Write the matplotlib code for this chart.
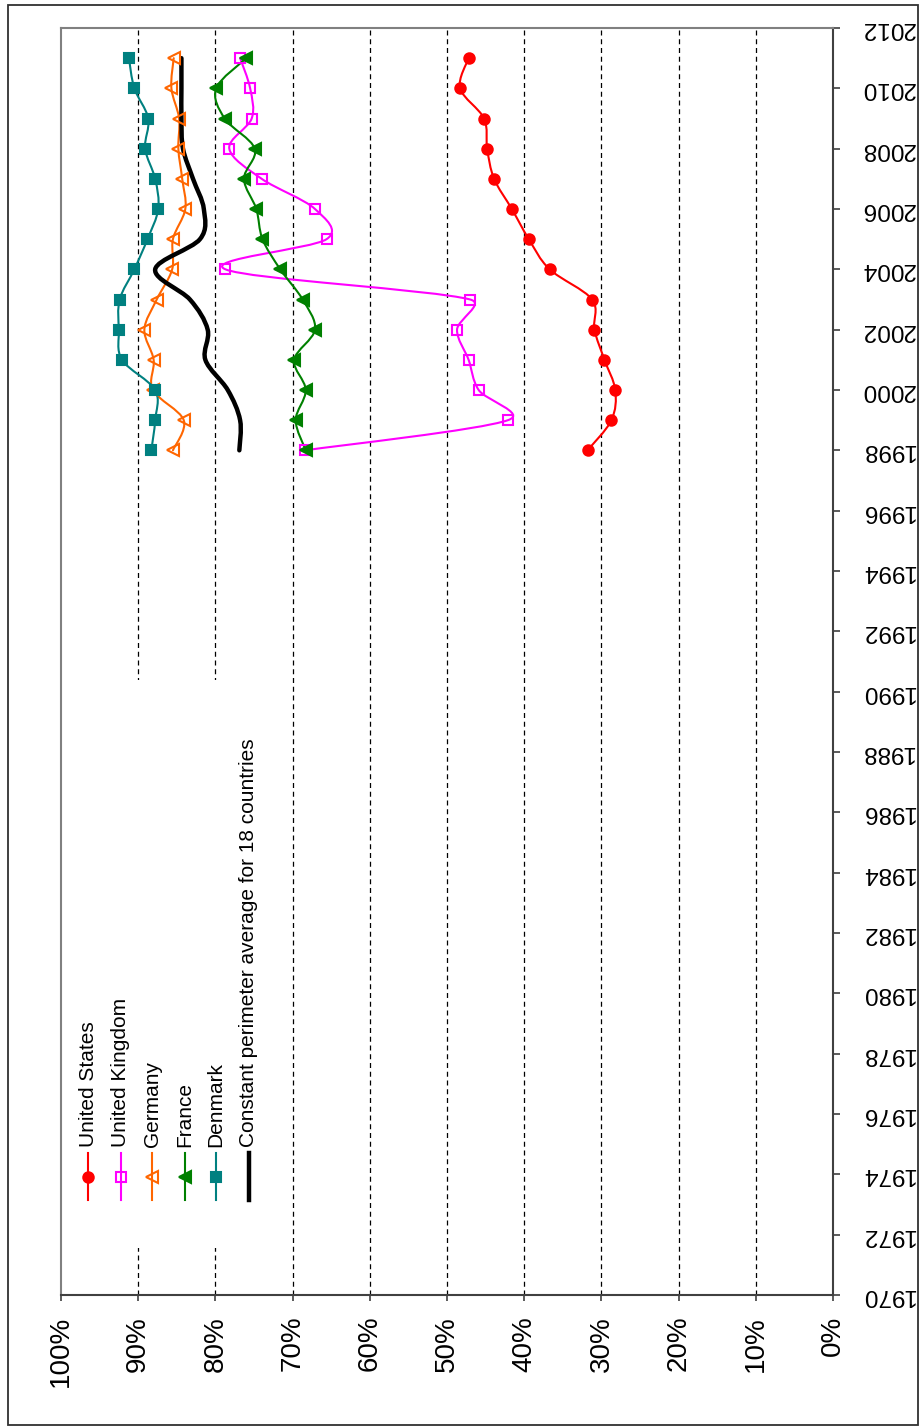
import matplotlib
matplotlib.use("Agg")
import matplotlib.pyplot as plt
from matplotlib.path import Path
from matplotlib.patches import PathPatch, Rectangle
from matplotlib.lines import Line2D
import numpy as np

plt.rcParams["font.family"] = ["Liberation Sans", "DejaVu Sans"]

# ---------------- data ----------------
years = [1998, 1999, 2000, 2001, 2002, 2003, 2004, 2005, 2006, 2007, 2008, 2009, 2010, 2011]
united_states = [31.8, 28.7, 28.2, 29.6, 30.9, 31.2, 36.7, 39.4, 41.6, 43.9, 44.8, 45.2, 48.3, 47.2]
united_kingdom = [68.4, 42.1, 45.9, 47.2, 48.7, 47.0, 78.7, 65.6, 67.1, 74.0, 78.2, 75.3, 75.5, 76.8]
germany = [85.5, 84.1, 88.1, 88.0, 89.2, 87.6, 85.6, 85.5, 83.9, 84.3, 84.8, 84.7, 85.7, 85.4]
france = [68.3, 69.6, 68.3, 69.8, 67.1, 68.7, 71.6, 73.9, 74.7, 76.3, 74.9, 78.8, 79.9, 76.0]
denmark = [88.3, 87.8, 87.8, 92.1, 92.5, 92.4, 90.5, 88.8, 87.4, 87.8, 89.1, 88.7, 90.5, 91.2]
average_18 = [76.9, 76.8, 78.4, 81.3, 81.0, 83.3, 87.8, 82.0, 81.5, 82.9, 84.2, 84.4, 84.4, 84.4]

series_names = ["United States", "United Kingdom", "Germany", "France", "Denmark",
                "Constant perimeter average for 18 countries"]
year_ticks = list(range(1970, 2013, 2))
year_labels = [str(y) for y in year_ticks]
pct_ticks = list(range(0, 101, 10))
pct_labels = [f"{p}%" for p in pct_ticks]
grid_vals = list(range(10, 100, 10))

# ---------------- styles ----------------
styles = [
    dict(color="#FF0000", marker="o", mfc="#FF0000", ms=7.5, lw=1.5),
    dict(color="#FF00FF", marker="s", mfc="none", ms=7, lw=1.5),
    dict(color="#FF6600", marker="<", mfc="none", ms=8.5, lw=1.5),
    dict(color="#008000", marker="<", mfc="#008000", ms=8.5, lw=1.5),
    dict(color="#008080", marker="s", mfc="#008080", ms=7, lw=1.5),
    dict(color="#000000", marker=None, mfc="none", ms=0, lw=3.2),
]
all_series = [united_states, united_kingdom, germany, france, denmark, average_18]

fig = plt.figure(figsize=(9.2, 14.27), dpi=100)
ax = fig.add_axes([61 / 920, 132 / 1427, 772 / 920, 1267 / 1427])
ax.set_xlim(100, 0)
ax.set_ylim(1970, 2012)

# pixel scale of the data units (for Excel-like smoothing in screen space)
SX = 772 / 100.0
SY = 1267 / 42.0


def smooth_path(xs, ys):
    pts = np.column_stack([np.asarray(xs, float) * SX, np.asarray(ys, float) * SY])
    n = len(pts)
    verts = [pts[0]]
    codes = [Path.MOVETO]
    for i in range(n - 1):
        p0 = pts[i - 1] if i > 0 else pts[i]
        p1 = pts[i]
        p2 = pts[i + 1]
        p3 = pts[i + 2] if i + 2 < n else pts[i + 1]
        half = np.linalg.norm(p2 - p1) / 2.0
        h1 = (p2 - p0) / 6.0
        h2 = (p3 - p1) / 6.0
        l1 = np.linalg.norm(h1)
        l2 = np.linalg.norm(h2)
        if l1 > half and l1 > 0:
            h1 = h1 * half / l1
        if l2 > half and l2 > 0:
            h2 = h2 * half / l2
        verts += [p1 + h1, p2 - h2, p2]
        codes += [Path.CURVE4] * 3
    verts = np.array(verts)
    verts[:, 0] /= SX
    verts[:, 1] /= SY
    return Path(verts, codes)


# outer border
fig.patches.append(Rectangle((8 / 920, 2 / 1427), 910 / 920, 1420 / 1427,
                             transform=fig.transFigure, fill=False,
                             edgecolor="#303030", lw=1.3, zorder=0))

for g in grid_vals:
    ax.axvline(g, color="black", lw=0.9, linestyle=(0, (4, 3)), zorder=0.5)

# legend background hides gridlines
ax.add_patch(Rectangle((0, 0.037), 0.264, 0.4484, transform=ax.transAxes,
                       facecolor="white", edgecolor="none", zorder=1))

for vals, st in zip(all_series, styles):
    path = smooth_path(vals, years)
    ax.add_patch(PathPatch(path, fill=False, edgecolor=st["color"], lw=st["lw"],
                           zorder=3, capstyle="round", joinstyle="round"))
    if st["marker"]:
        ax.plot(vals, years, linestyle="none", marker=st["marker"], ms=st["ms"],
                mfc=st["mfc"], mec=st["color"], mew=1.5, zorder=4)

# spines
for s in ["top", "left"]:
    ax.spines[s].set_color("#808080")
    ax.spines[s].set_linewidth(1.5)
for s in ["right", "bottom"]:
    ax.spines[s].set_color("#404040")
    ax.spines[s].set_linewidth(1.5)

ax.yaxis.tick_right()
ax.set_yticks(year_ticks)
ax.set_yticklabels(year_labels, rotation=180, va="center", ha="left")
ax.tick_params(axis="y", direction="out", length=5, width=1.2, color="#404040",
               pad=15, labelsize=17.5, labelcolor="black", left=False, right=True)

ax.set_xticks(pct_ticks)
ax.set_xticklabels(pct_labels, rotation=90, va="top", ha="center")
ax.tick_params(axis="x", direction="out", length=4, width=1.2, color="#404040",
               pad=11, labelsize=20, labelcolor="black")

# legend (rotated, drawn manually)
leg_x = [0.035, 0.0777, 0.1179, 0.1606, 0.2008, 0.2435]
for lx, name, st in zip(leg_x, series_names, styles):
    ax.add_line(Line2D([lx, lx], [0.075, 0.112], transform=ax.transAxes,
                       color=st["color"], lw=st["lw"], zorder=5))
    if st["marker"]:
        ax.add_line(Line2D([lx], [0.0935], transform=ax.transAxes, linestyle="none",
                           marker=st["marker"], ms=st["ms"], mfc=st["mfc"],
                           mec=st["color"], mew=1.5, zorder=6))
    ax.text(lx, 0.117, name, transform=ax.transAxes, rotation=90, ha="center",
            va="bottom", fontsize=15, zorder=6)

fig.savefig("out.png", dpi=100)
